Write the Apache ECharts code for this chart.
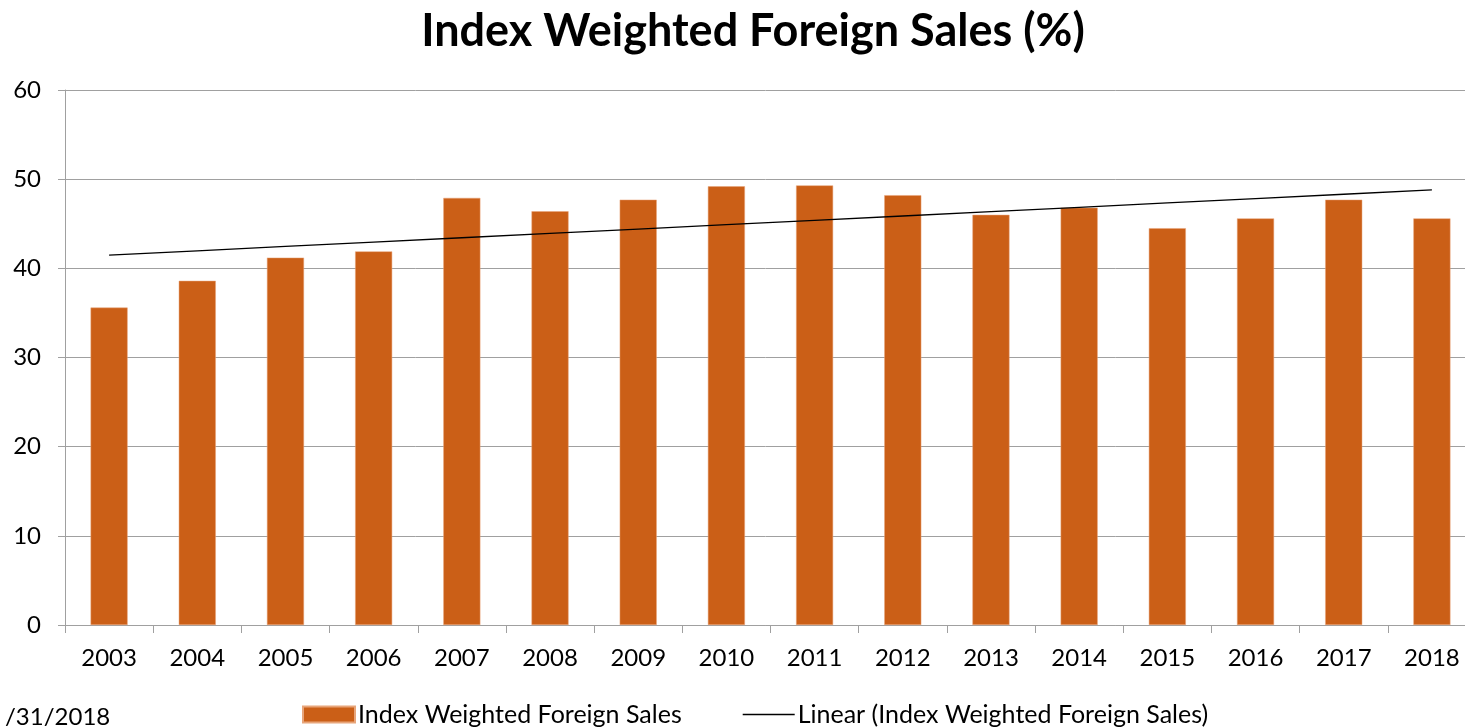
<!DOCTYPE html>
<html>
<head>
<meta charset="utf-8">
<script src="https://cdn.jsdelivr.net/npm/echarts@6/dist/echarts.min.js"></script>
<style>
  html, body { margin: 0; padding: 0; background: #fff; }
  #chart { width: 1465px; height: 727px; }
</style>
</head>
<body>
<div id="chart"></div>
<script>
const years = ['2003', '2004', '2005', '2006', '2007', '2008', '2009', '2010',
  '2011', '2012', '2013', '2014', '2015', '2016', '2017', '2018']
const foreignSales = [35.6, 38.6, 41.2, 41.9, 47.9, 46.4, 47.7, 49.2,
  49.3, 48.2, 46.0, 46.8, 44.5, 45.6, 47.7, 45.6]
const yTicks = [0, 10, 20, 30, 40, 50, 60]

const barName = 'Index Weighted Foreign Sales'
const lineName = 'Linear (Index Weighted Foreign Sales)'

// linear trendline (least squares), as in the spreadsheet
function linearFit(vals) {
  const n = vals.length
  let sx = 0, sy = 0, sxy = 0, sxx = 0
  vals.forEach((v, i) => {
    sx += i; sy += v; sxy += i * v; sxx += i * i
  })
  const slope = (n * sxy - sx * sy) / (n * sxx - sx * sx)
  const icpt = (sy - slope * sx) / n
  return vals.map((v, i) => +(icpt + slope * i).toFixed(3))
}
const trend = linearFit(foreignSales)

const font = 'Lato, "Open Sans", sans-serif'

let option = {
  animation: false,
  title: {
    text: 'Index Weighted Foreign Sales (%)',
    left: 748,
    top: 4,
    textAlign: 'center',
    textStyle: { fontFamily: font, fontWeight: 'bold', fontSize: 45, color: '#000' }
  },
  grid: {
    left: 65,
    top: 90,
    width: 1411,
    height: 535,
    outerBoundsMode: 'none',
    containLabel: false
  },
  legend: {
    left: 297,
    top: 697,
    itemWidth: 52,
    itemHeight: 16,
    itemGap: 61,
    textStyle: { fontFamily: font, fontSize: 25, color: '#000', padding: [0, 0, 0, -2] },
    data: [
      { name: barName, icon: 'rect' },
      { name: lineName, icon: 'path://M0,0 L52,0 L52,1.3 L0,1.3 Z' }
    ]
  },
  xAxis: {
    type: 'category',
    data: years,
    axisLine: { lineStyle: { color: '#a0a0a0', width: 1 } },
    axisTick: { show: true, length: 8, lineStyle: { color: '#a0a0a0' } },
    axisLabel: { fontFamily: font, fontSize: 24, color: '#000', margin: 21 },
    splitLine: { show: false }
  },
  yAxis: {
    type: 'value',
    min: yTicks[0],
    max: yTicks[yTicks.length - 1],
    interval: 10,
    axisLine: { show: true, lineStyle: { color: '#a0a0a0', width: 1 } },
    axisTick: { show: true, length: 7, lineStyle: { color: '#a0a0a0' } },
    axisLabel: { fontFamily: font, fontSize: 24, color: '#000', margin: 24 },
    splitLine: { show: true, lineStyle: { color: '#a0a0a0', width: 1 } }
  },
  series: [
    {
      name: barName,
      type: 'bar',
      data: foreignSales,
      barWidth: '42%',
      itemStyle: { color: '#CB5F17', borderColor: '#e8a57a', borderWidth: 0.5 }
    },
    {
      name: lineName,
      type: 'line',
      data: trend,
      symbol: 'none',
      symbolKeepAspect: true,
      lineStyle: { color: '#000', width: 1.3 },
      itemStyle: { color: '#000' },
      z: 5
    }
  ],
  graphic: [
    {
      type: 'text',
      left: 5,
      top: 705,
      style: { text: '/31/2018', font: '24px ' + font, fill: '#000' }
    }
  ]
}

let myChart = echarts.init(document.getElementById('chart'))
myChart.setOption(option)
</script>
</body>
</html>
